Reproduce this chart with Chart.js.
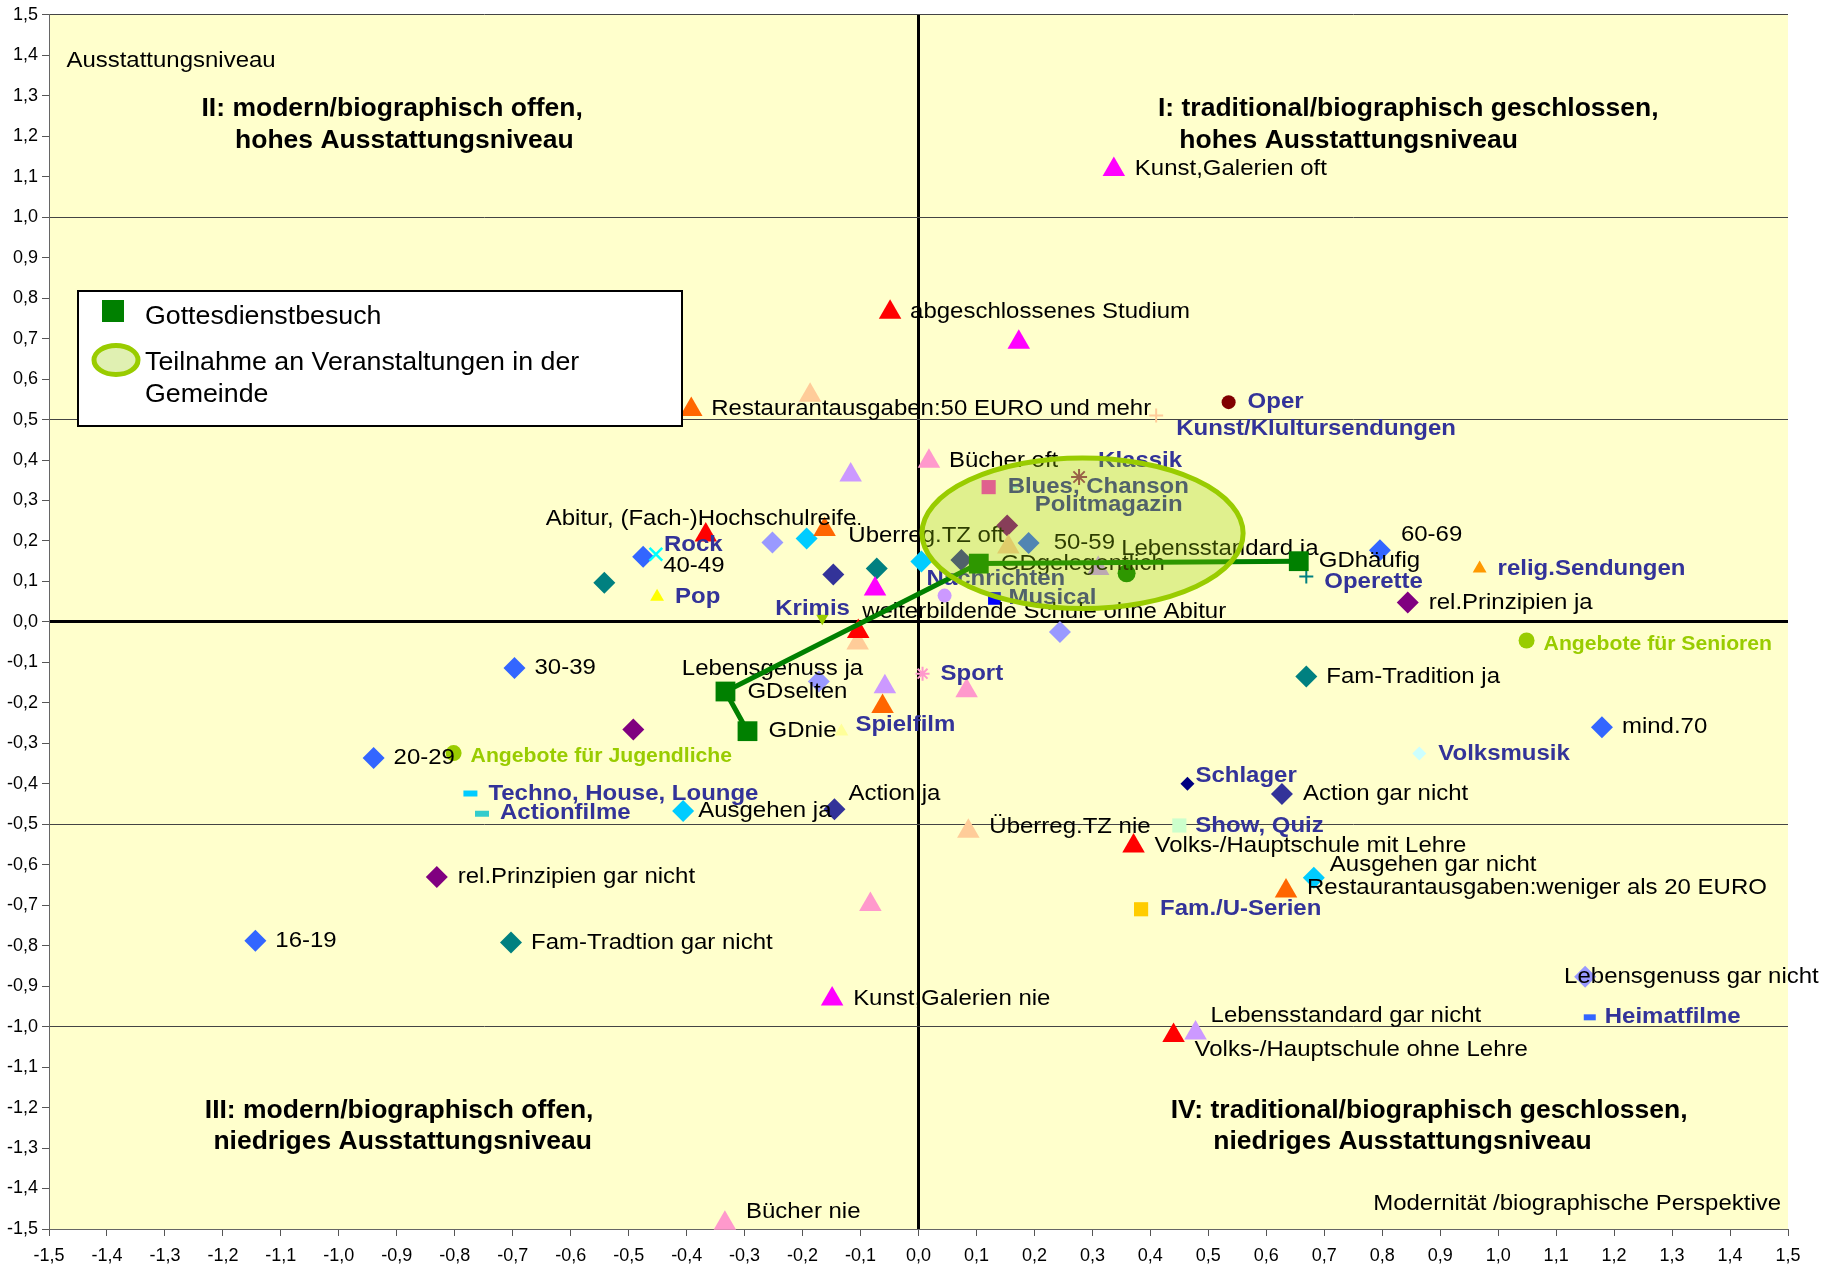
<!DOCTYPE html>
<html>
<head>
<meta charset="utf-8">
<script src="https://cdn.jsdelivr.net/npm/chart.js@4.4.0/dist/chart.umd.min.js"></script>
<style>
html,body{margin:0;padding:0;background:#ffffff;}
#wrap{width:1835px;height:1269px;position:relative;}
</style>
</head>
<body>
<div id="wrap"><canvas id="c" width="1835" height="1269"></canvas></div>
<script>
// ---------- Daten: [Beschriftung, x (Modernität), y (Ausstattungsniveau)] ----------
const alter = [['16-19',-1.144,-0.788],['20-29',-0.940,-0.336],['30-39',-0.697,-0.114],['40-49',-0.475,0.161],['50-59',0.190,0.195],['60-69',0.796,0.177],['mind.70',1.179,-0.260]];
const bildung = [['abgeschlossenes Studium',-0.049,0.765],['Abitur, (Fach-)Hochschulreife',-0.367,0.215],['weiterbildende Schule ohne Abitur',-0.104,-0.024],['Volks-/Hauptschule mit Lehre',0.371,-0.554],['Volks-/Hauptschule ohne Lehre',0.440,-1.022]];
const restaurant = [['Restaurantausgaben:50 EURO und mehr',-0.392,0.525],['',-0.162,0.228],['',-0.062,-0.209],['Restaurantausgaben:weniger als 20 EURO',0.634,-0.665]];
const kunstGalerien = [['Kunst,Galerien oft',0.337,1.118],['',0.173,0.691],['',-0.075,0.081],['Kunst,Galerien nie',-0.149,-0.932]];
const buecher = [['Bücher oft',0.018,0.397],['',0.083,-0.170],['',-0.083,-0.698],['Bücher nie',-0.334,-1.486]];
const ueberregTZ = [['Überreg.TZ oft',0.155,0.185],['',-0.187,0.560],['',-0.105,-0.052],['Überreg.TZ nie',0.086,-0.517]];
const lebensstandard = [['Lebensstandard ja',0.310,0.132],['',-0.117,0.363],['',-0.058,-0.160],['Lebensstandard gar nicht',0.478,-1.016]];
const lebensgenuss = [['Lebensgenuss ja',-0.172,-0.147],['',-0.252,0.196],['',0.244,-0.025],['Lebensgenuss gar nicht',1.150,-0.877]];
const ausgehen = [['Ausgehen ja',-0.406,-0.467],['',-0.193,0.206],['',0.005,0.149],['Ausgehen gar nicht',0.682,-0.632]];
const action = [['Action ja',-0.145,-0.463],['',-0.147,0.117],['',0.074,0.153],['Action gar nicht',0.627,-0.425]];
const famTradition = [['Fam-Tradition ja',0.669,-0.135],['',-0.542,0.097],['',-0.072,0.132],['Fam-Tradtion gar nicht',-0.703,-0.792]];
const relPrinzipien = [['rel.Prinzipien ja',0.844,0.048],['',-0.492,-0.266],['',0.153,0.238],['rel.Prinzipien gar nicht',-0.831,-0.630]];
const gottesdienst = [['GDhäufig',0.656,0.150],['GDgelegentlich',0.104,0.144],['GDselten',-0.333,-0.172],['GDnie',-0.295,-0.270]];
const teilnahme = [['',0.359,0.120]];
const angebote = [['Angebote für Jugendliche',-0.802,-0.324],['Angebote für Senioren',1.049,-0.046]];
const genres = [
  ['Oper',0.535,0.543],['Kunst/Klultursendungen',0.410,0.510],['Klassik',0.277,0.358],['Blues, Chanson',0.121,0.333],
  ['Politmagazin',0.166,0.335],['Rock',-0.453,0.167],['Pop',-0.451,0.062],['Krimis',-0.166,0.009],
  ['Nachrichten',0.045,0.065],['Musical',0.131,0.058],['Sport',0.007,-0.128],['Spielfilm',-0.133,-0.271],
  ['Schlager',0.464,-0.400],['Volksmusik',0.864,-0.325],['Show, Quiz',0.450,-0.503],['Fam./U-Serien',0.384,-0.710],
  ['Heimatfilme',1.158,-0.977],['Techno, House, Lounge',-0.773,-0.424],['Actionfilme',-0.753,-0.474],
  ['Operette',0.669,0.112],['relig.Sendungen',0.968,0.132]
];
// Ellipse "Teilnahme an Veranstaltungen in der Gemeinde": [cx, cy, rx, ry] in Achseneinheiten
const teilnahmeEllipse = [0.283, 0.219, 0.277, 0.186];
// Achsenbereich
const axisMin = -1.5, axisMax = 1.5, axisStep = 0.1;
const gridValuesY = [1.5, 1.0, 0.5, -0.5, -1.0];

// ---------- Texte (Positionen in Achseneinheiten) ----------
const quadrantTexts = [
  ['II: modern/biographisch offen,', -0.908, 1.266],
  ['hohes Ausstattungsniveau', -0.887, 1.188],
  ['I: traditional/biographisch geschlossen,', 0.845, 1.266],
  ['hohes Ausstattungsniveau', 0.742, 1.188],
  ['III: modern/biographisch offen,', -0.896, -1.209],
  ['niedriges Ausstattungsniveau', -0.890, -1.286],
  ['IV: traditional/biographisch geschlossen,', 0.881, -1.209],
  ['niedriges Ausstattungsniveau', 0.835, -1.286]
];
const axisCaptions = [
  ['Ausstattungsniveau', -1.470, 1.385, 'left'],
  ['Modernität /biographische Perspektive', 1.488, -1.439, 'right']
];

// ---------- Stile ----------
const FONT = '"Liberation Sans", Arial, Helvetica, sans-serif';
const SX = 1.09;
const genreStyles = [
  ['circle','#800000',7,0],['cross','#FFCC99',7,2],['star','#993366',8,2],['rect','#FF33CC',10,0],
  ['crossRot','#99FFFF',4,1.5],['crossRot','#00FFFF',9,2.5],['triangle','#FFFF00',8,0],['triangle','#99CC00',7,0,180],
  ['circle','#CC99FF',7,0],['rect','#0000FF',9,0],['star','#FF99CC',7,2],['triangle','#FFFF99',8,0],
  ['rectRot','#000080',7,0],['rectRot','#CCFFFF',7,0],['rect','#CCFFCC',10,0],['rect','#FFCC00',10,0],
  ['line','#3366FF',6,6],['line','#00CCFF',7,6],['line','#33CCCC',7,6],
  ['cross','#008080',7,2],['triangle','#FF9900',8,0]
];
const groups = [
  {pts: alter, shape:'rectRot', color:'#3366FF', r:11, text:'normal'},
  {pts: bildung, shape:'triangle', color:'#FF0000', r:13, text:'normal'},
  {pts: restaurant, shape:'triangle', color:'#FF6600', r:13, text:'normal'},
  {pts: kunstGalerien, shape:'triangle', color:'#FF00FF', r:13, text:'normal'},
  {pts: buecher, shape:'triangle', color:'#FF99CC', r:13, text:'normal'},
  {pts: ueberregTZ, shape:'triangle', color:'#FFCC99', r:13, text:'normal'},
  {pts: lebensstandard, shape:'triangle', color:'#CC99FF', r:13, text:'normal'},
  {pts: lebensgenuss, shape:'rectRot', color:'#9999FF', r:11, text:'normal'},
  {pts: ausgehen, shape:'rectRot', color:'#00CCFF', r:11, text:'normal'},
  {pts: action, shape:'rectRot', color:'#333399', r:11, text:'normal'},
  {pts: famTradition, shape:'rectRot', color:'#008080', r:11, text:'normal'},
  {pts: relPrinzipien, shape:'rectRot', color:'#800080', r:11, text:'normal'},
  {pts: teilnahme, shape:'circle', color:'#008000', r:9, text:'normal'},
  {pts: angebote, shape:'circle', color:'#99CC00', r:8, text:'angebot'}
];
const textStyles = {
  normal: {font: '22px ' + FONT, color: '#000000', sx: SX},
  genre: {font: 'bold 22px ' + FONT, color: '#333399', sx: SX},
  angebot: {font: 'bold 20px ' + FONT, color: '#99CC00', sx: 1.06}
};
// Versatz der Beschriftung zum Punkt (Pixel); Standard [20, 0]
const labelOffsets = {
  '40-49':[20,9], '50-59':[25,0], '60-69':[21,-15],
  'Abitur, (Fach-)Hochschulreife':[-160,-16], 'weiterbildende Schule ohne Abitur':[4,-20],
  'Volks-/Hauptschule mit Lehre':[21,0], 'Volks-/Hauptschule ohne Lehre':[21,14],
  'Restaurantausgaben:weniger als 20 EURO':[21,-3], 'Kunst,Galerien oft':[21,0], 'Kunst,Galerien nie':[21,0],
  'Bücher nie':[21,-11], 'Überreg.TZ oft':[-160,-11], 'Überreg.TZ nie':[21,-4],
  'Lebensstandard ja':[23,-20], 'Lebensstandard gar nicht':[15,-17],
  'Lebensgenuss ja':[-137,-12], 'Lebensgenuss gar nicht':[-21,0],
  'Ausgehen ja':[15,0], 'Ausgehen gar nicht':[16,-13], 'Action ja':[14,-15], 'Action gar nicht':[21,0],
  'rel.Prinzipien ja':[21,0], 'rel.Prinzipien gar nicht':[21,0],
  'GDselten':[22,0], 'GDgelegentlich':[22,0], 'GDnie':[21,0],
  'Angebote für Jugendliche':[17,3], 'Angebote für Senioren':[17,4],
  'Kunst/Klultursendungen':[20,13], 'Klassik':[19,-16], 'Blues, Chanson':[19,0], 'Politmagazin':[20,19],
  'Rock':[8,-9], 'Pop':[18,0], 'Krimis':[-47,-9], 'Nachrichten':[-18,-17], 'Musical':[14,0],
  'Sport':[18,0], 'Spielfilm':[14,-7], 'Schlager':[8,-8], 'Volksmusik':[19,0], 'Show, Quiz':[16,0],
  'Fam./U-Serien':[19,0], 'Heimatfilme':[15,0], 'Techno, House, Lounge':[18,0], 'Actionfilme':[18,-1],
  'Operette':[18,5], 'relig.Sendungen':[18,0], 'Oper':[19,0]
};

function fmt(v){ const r = Math.round(v*10)/10; return (r === 0 ? 0 : r).toFixed(1).replace('.', ','); }
const toXY = arr => arr.map(p => ({x: p[1], y: p[2]}));

function drawText(ctx, txt, x, y, font, color, align, sx){
  ctx.save();
  ctx.font = font; ctx.fillStyle = color; ctx.textBaseline = 'middle';
  ctx.textAlign = align || 'left';
  ctx.translate(x, y); ctx.scale(sx || SX, 1);
  ctx.fillText(txt, 0, 0);
  ctx.restore();
}

// ---------- Datensätze ----------
const gdDataset = {
  label: 'Gottesdienstbesuch', data: toXY(gottesdienst), showLine: true,
  borderColor: '#008000', borderWidth: 5, tension: 0,
  pointStyle: 'rect', pointRadius: 14, pointBackgroundColor: '#008000', pointBorderWidth: 0, clip: false
};
const genreDataset = {
  label: 'Sendungen', data: toXY(genres), showLine: false, clip: false,
  pointStyle: genreStyles.map(s => s[0]),
  pointBackgroundColor: genreStyles.map(s => s[1]),
  pointBorderColor: genreStyles.map(s => s[1]),
  pointRadius: genreStyles.map(s => s[2]),
  pointBorderWidth: genreStyles.map(s => s[3]),
  pointRotation: genreStyles.map(s => s[4] || 0)
};
const groupDatasets = groups.map(g => ({
  data: toXY(g.pts), showLine: false, clip: false,
  pointStyle: g.shape, pointRadius: g.r,
  pointBackgroundColor: g.color, pointBorderColor: g.color, pointBorderWidth: 0
}));
const labelGroups = [{pts: gottesdienst, text:'normal'}, {pts: genres, text:'genre'}].concat(groups);

const overlay = {
  id: 'overlay',
  beforeDraw(chart){
    const {ctx, chartArea: a} = chart;
    ctx.save(); ctx.fillStyle = '#FFFFCC';
    ctx.fillRect(a.left, a.top, a.right - a.left, a.bottom - a.top);
    ctx.restore();
  },
  beforeDatasetsDraw(chart){
    const {ctx, scales:{x, y}} = chart;
    quadrantTexts.forEach(t => drawText(ctx, t[0], x.getPixelForValue(t[1]), y.getPixelForValue(t[2]), 'bold 25px ' + FONT, '#000', 'center', 1.06));
    axisCaptions.forEach(t => drawText(ctx, t[0], x.getPixelForValue(t[1]), y.getPixelForValue(t[2]), '22px ' + FONT, '#000', t[3], SX));
  },
  afterDatasetDraw(chart, args){
    if (args.index !== 1) return;
    const {ctx, scales:{x, y}} = chart;
    labelGroups.forEach(g => {
      const st = textStyles[g.text];
      g.pts.forEach(p => {
        if (!p[0]) return;
        const off = labelOffsets[p[0]] || [20, 0];
        drawText(ctx, p[0], x.getPixelForValue(p[1]) + off[0], y.getPixelForValue(p[2]) + off[1], st.font, st.color, 'left', st.sx);
      });
    });
  },
  afterDatasetsDraw(chart){
    const {ctx, scales:{x, y}} = chart;
    const [cx, cy, rx, ry] = teilnahmeEllipse;
    const px = x.getPixelForValue(cx), py = y.getPixelForValue(cy);
    const prx = x.getPixelForValue(cx + rx) - px, pry = py - y.getPixelForValue(cy + ry);
    ctx.save();
    ctx.beginPath(); ctx.ellipse(px, py, prx, pry, 0, 0, Math.PI * 2);
    ctx.fillStyle = 'rgba(153,204,0,0.30)'; ctx.fill();
    ctx.lineWidth = 5; ctx.strokeStyle = '#99CC00'; ctx.stroke();
    ctx.restore();
  },
  afterDraw(chart){
    const ctx = chart.ctx;
    ctx.save();
    ctx.fillStyle = '#ffffff'; ctx.fillRect(78, 291, 604, 135);
    ctx.lineWidth = 2; ctx.strokeStyle = '#000000'; ctx.strokeRect(78, 291, 604, 135);
    ctx.fillStyle = '#008000'; ctx.fillRect(102, 300, 22, 22);
    ctx.beginPath(); ctx.ellipse(116, 360, 22, 14.5, 0, 0, Math.PI * 2);
    ctx.fillStyle = 'rgba(153,204,0,0.30)'; ctx.fill();
    ctx.lineWidth = 5; ctx.strokeStyle = '#99CC00'; ctx.stroke();
    ctx.restore();
    const lf = '25px ' + FONT;
    drawText(ctx, 'Gottesdienstbesuch', 145, 317, lf, '#000', 'left', 1.07);
    drawText(ctx, 'Teilnahme an Veranstaltungen in der', 145, 363, lf, '#000', 'left', 1.07);
    drawText(ctx, 'Gemeinde', 145, 395, lf, '#000', 'left', 1.07);
  }
};

const isZero = v => Math.abs(v) < 1e-9;
const onGridY = v => gridValuesY.some(g => Math.abs(g - v) < 1e-9);

new Chart(document.getElementById('c'), {
  type: 'scatter',
  data: { datasets: [gdDataset, genreDataset].concat(groupDatasets) },
  options: {
    responsive: false, animation: false, devicePixelRatio: 1, events: [],
    layout: { padding: { top: 12, right: 47, left: 0, bottom: 0 } },
    plugins: { legend: { display: false }, tooltip: { enabled: false } },
    scales: {
      x: {
        type: 'linear', position: 'bottom', min: axisMin, max: axisMax,
        afterFit(s){ s.height = 40; },
        ticks: { stepSize: axisStep, autoSkip: false, maxRotation: 0, minRotation: 0, padding: 9,
                 color: '#000', font: { family: FONT, size: 18 }, callback: fmt },
        grid: {
          color: c => (c.tick && isZero(c.tick.value)) ? '#000000' : 'rgba(0,0,0,0)',
          lineWidth: c => (c.tick && isZero(c.tick.value)) ? 3 : 1,
          tickColor: '#555555', tickWidth: 1, tickLength: 7
        },
        border: { display: true, color: '#666666', width: 1 }
      },
      y: {
        type: 'linear', position: 'left', min: axisMin, max: axisMax,
        afterFit(s){ s.width = 49; },
        ticks: { stepSize: axisStep, autoSkip: false, padding: 4,
                 color: '#000', font: { family: FONT, size: 18 }, callback: fmt },
        grid: {
          color: c => !c.tick ? 'rgba(0,0,0,0)' : isZero(c.tick.value) ? '#000000' : onGridY(c.tick.value) ? '#444444' : 'rgba(0,0,0,0)',
          lineWidth: c => (c.tick && isZero(c.tick.value)) ? 3 : 1,
          tickColor: '#555555', tickWidth: 1, tickLength: 7
        },
        border: { display: true, color: '#666666', width: 1 }
      }
    }
  },
  plugins: [overlay]
});
</script>
</body>
</html>
